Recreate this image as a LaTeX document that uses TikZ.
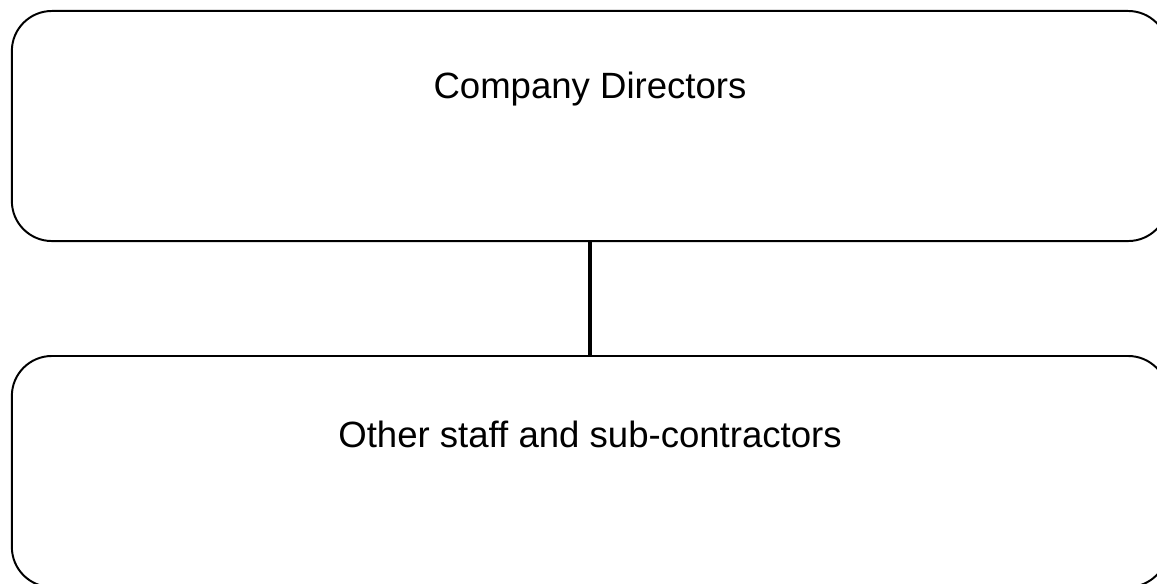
\documentclass[tikz,border=0pt]{standalone}
\usepackage{fontspec}
\setmainfont{Liberation Sans}
\begin{document}
\begin{tikzpicture}[auto, x=0.025cm, y=-0.025cm,
    group/.style ={rectangle, draw, line width=1.4pt, rounded corners=1cm,
      minimum width=28.9cm, inner xsep=0pt, inner ysep=0pt,
      font=\fontsize{26}{31}\selectfont}]
   \useasboundingbox (0,0) rectangle (1157,584);
   \node[group, anchor=north, text height=2.175cm, text depth=3.575cm] (directors) at (590,10)  {Company Directors};
   \node[group, anchor=north, text height=2.275cm, text depth=3.5cm] (staff) at (590,355)  {Other staff and sub-contractors};

   \draw[line width=3.5pt] (directors) to  (staff);
 \end{tikzpicture}
\end{document}
